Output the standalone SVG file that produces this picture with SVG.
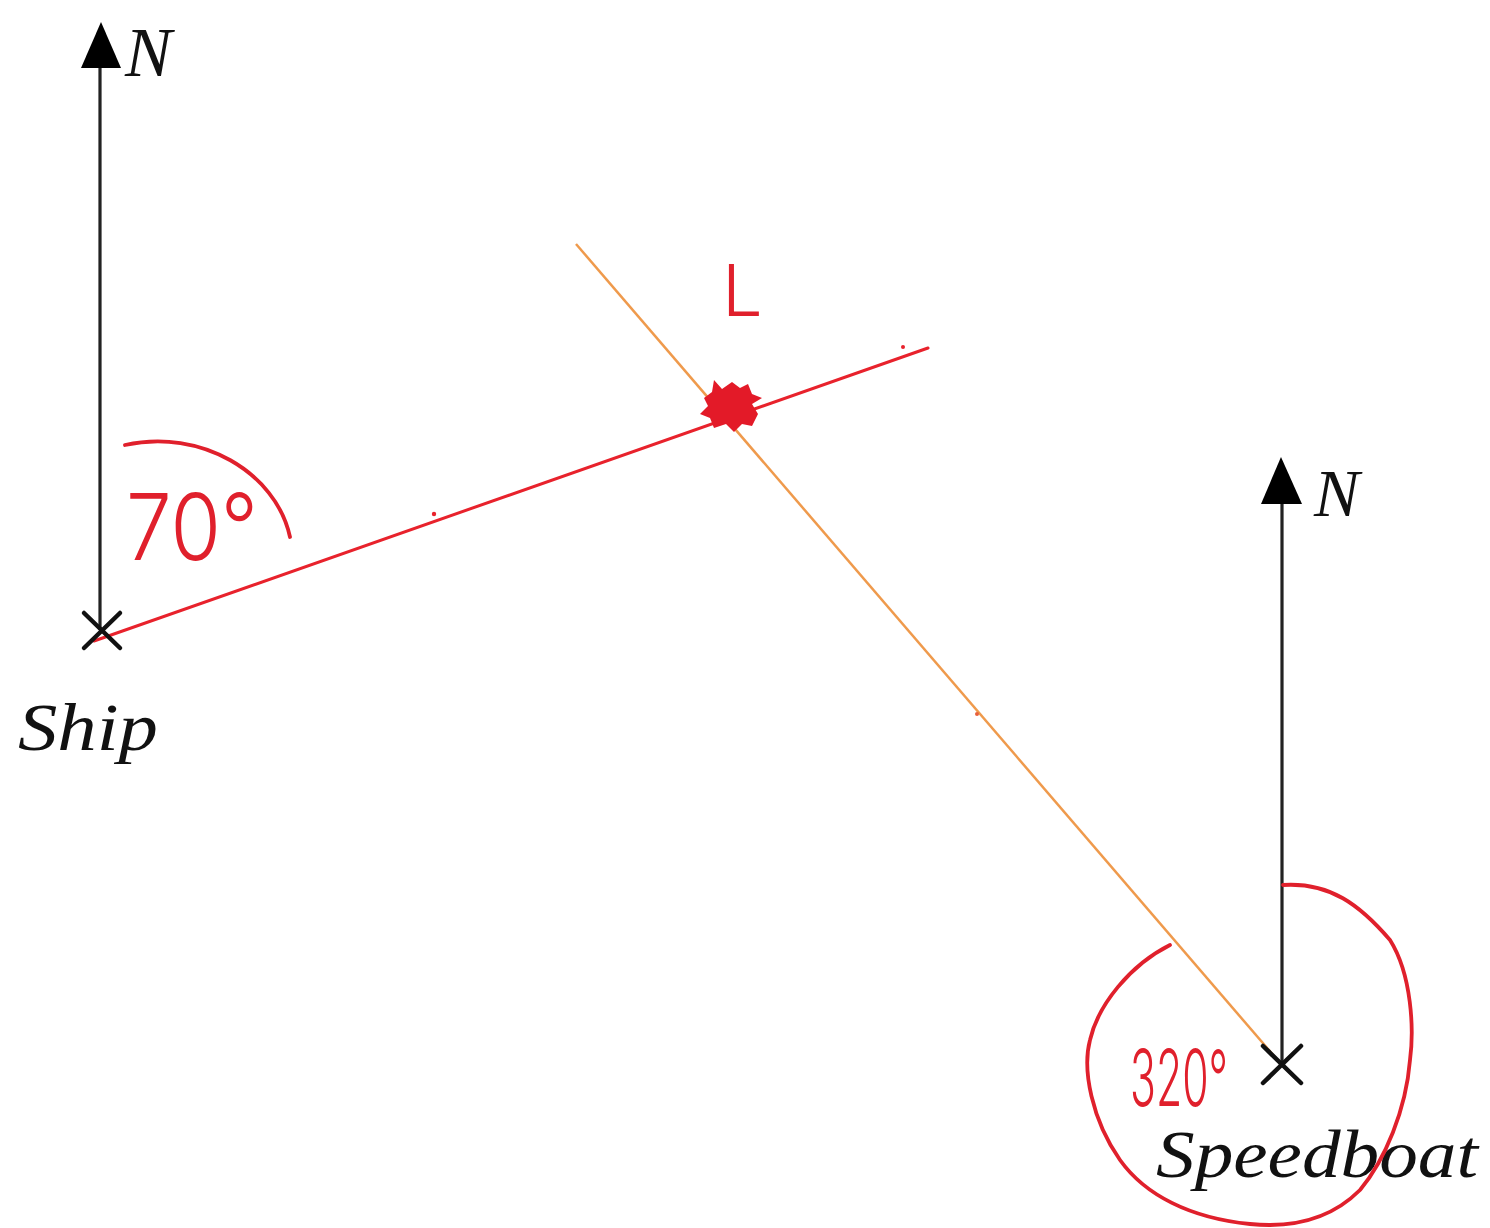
<svg xmlns="http://www.w3.org/2000/svg" width="1490" height="1228" viewBox="0 0 1490 1228">
<defs>
<style>
.north{stroke:#222;stroke-width:3.2;fill:none}
.head{fill:#000}
.cross{stroke:#111;stroke-width:4.5;stroke-linecap:round;fill:none}
.lbl{font-family:"Liberation Serif",serif;font-style:italic;fill:#111}
.hand{font-family:Inter,"DejaVu Sans",sans-serif;font-weight:300;fill:#e0202c}
.red{stroke:#e8222c;stroke-width:3;fill:none;stroke-linecap:round}
.loop{stroke:#e0202c;stroke-width:3.8;fill:none;stroke-linecap:round}
.orange{stroke:#ef9a4c;stroke-width:2.5;fill:none}
</style>
</defs>
<rect width="1490" height="1228" fill="#fff"/>

<g id="connectors">
  <line class="orange" x1="576" y1="244" x2="1280" y2="1063"/>
  <line class="red" x1="94" y1="641" x2="928" y2="348"/>
  <circle cx="434" cy="514" r="2.2" fill="#e8222c"/>
  <circle cx="903" cy="347" r="2" fill="#e8222c"/>
  <circle cx="977" cy="714" r="2" fill="#e8603c"/>
</g>

<g id="ship">
  <line class="north" x1="100" y1="630" x2="100" y2="60"/>
  <polygon class="head" points="101,22 81,68 121,68"/>
  <text class="lbl" x="125" y="76" font-size="70">N</text>
  <path class="cross" d="M84,613 L120,648 M120,613 L84,648"/>
  <text class="lbl" x="18" y="750" font-size="68" textLength="140" lengthAdjust="spacingAndGlyphs">Ship</text>
  <path class="loop" d="M125,445 C200,428 276,472 290,537"/>
  <text class="hand" x="126" y="560" font-size="92" textLength="132" lengthAdjust="spacingAndGlyphs">70°</text>
</g>

<g id="intersection">
  <path fill="#e31a28" d="M704,398 L712,392 L714,380 L722,389 L732,382 L740,388 L748,384 L752,394 L762,398 L752,404 L758,414 L752,426 L742,424 L734,432 L726,424 L714,428 L710,418 L700,414 L708,406 Z"/>
  <text class="hand" x="722" y="316" font-size="72">L</text>
</g>

<g id="speedboat">
  <line class="north" x1="1282" y1="1065" x2="1282" y2="495"/>
  <polygon class="head" points="1281,457 1261,504 1302,504"/>
  <text class="lbl" x="1314" y="516" font-size="68">N</text>
  <path class="cross" d="M1263,1046 L1301,1083 M1301,1046 L1263,1083"/>
  <text class="lbl" x="1156" y="1177" font-size="68" textLength="322" lengthAdjust="spacingAndGlyphs">Speedboat</text>
  <path class="loop" d="M1283,885 C1330,882 1360,905 1390,940 C1412,975 1414,1030 1410,1060 C1406,1110 1385,1160 1360,1190 C1330,1220 1290,1228 1250,1224 C1190,1218 1145,1195 1120,1160 C1092,1120 1082,1070 1090,1040 C1098,1005 1130,965 1170,945"/>
  <text class="hand" x="1130" y="1106" font-size="78" textLength="98" lengthAdjust="spacingAndGlyphs">320°</text>
</g>
</svg>
